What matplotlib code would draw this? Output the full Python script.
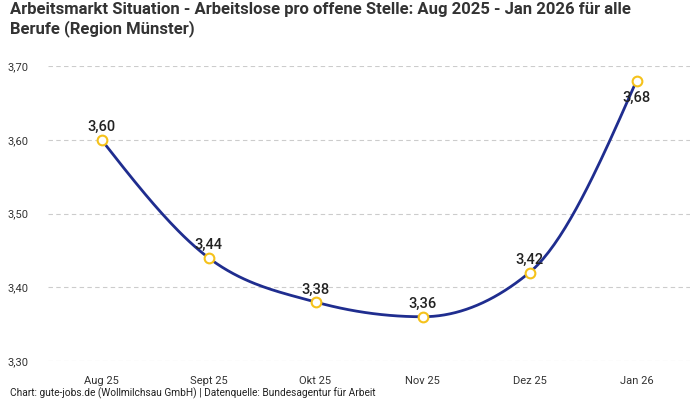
import numpy as np
import matplotlib.pyplot as plt

months = ["Aug 25", "Sept 25", "Okt 25", "Nov 25", "Dez 25", "Jan 26"]
werte = [3.60, 3.44, 3.38, 3.36, 3.42, 3.68]
y_ticks = [3.30, 3.40, 3.50, 3.60, 3.70]

titel = "Arbeitsmarkt Situation - Arbeitslose pro offene Stelle: Aug 2025 - Jan 2026 für alle\nBerufe (Region Münster)"
quelle = "Chart: gute-jobs.de (Wollmilchsau GmbH) | Datenquelle: Bundesagentur für Arbeit"

plt.rcParams['font.family'] = ['Roboto', 'DejaVu Sans']


def monotone(x, y, n=40):
    # monotone kubische Interpolation (wie d3 curveMonotoneX)
    x = np.asarray(x, float)
    y = np.asarray(y, float)
    h = np.diff(x)
    s = np.diff(y) / h
    m = np.zeros_like(y)
    for i in range(1, len(y) - 1):
        if s[i - 1] * s[i] <= 0:
            m[i] = 0
        else:
            p = (s[i - 1] * h[i] + s[i] * h[i - 1]) / (h[i - 1] + h[i])
            m[i] = (np.sign(s[i - 1]) + np.sign(s[i])) * min(abs(s[i - 1]), abs(s[i]), 0.5 * abs(p))
    m[0] = (3 * s[0] - m[1]) / 2 if len(y) > 2 else s[0]
    m[-1] = (3 * s[-1] - m[-2]) / 2
    xs, ys = [], []
    for i in range(len(h)):
        t = np.linspace(0, 1, n)
        h00 = 2 * t**3 - 3 * t**2 + 1
        h10 = t**3 - 2 * t**2 + t
        h01 = -2 * t**3 + 3 * t**2
        h11 = t**3 - t**2
        xs.append(x[i] + t * h[i])
        ys.append(h00 * y[i] + h10 * h[i] * m[i] + h01 * y[i + 1] + h11 * h[i] * m[i + 1])
    return np.concatenate(xs), np.concatenate(ys)


fig = plt.figure(figsize=(7, 4), dpi=100)
ax = fig.add_axes([48 / 700, 1 - 361 / 400, 642 / 700, 295 / 400])

xpos = np.arange(len(months))
xs, ys = monotone(xpos, werte)
ax.plot(xs, ys, color="#1f2d8f", lw=2, zorder=2)
ax.plot(xpos, werte, 'o', ms=7, mfc="white", mec="#f5c21b", mew=1.5, zorder=3)

for i, v in enumerate(werte):
    txt = f"{v:.2f}".replace(".", ",")
    if v > 3.65:
        ax.annotate(txt, (i, v), xytext=(0, -7), textcoords="offset points",
                    ha="center", va="top", fontsize=10.5, fontweight="medium", color="#222222")
    else:
        ax.annotate(txt, (i, v), xytext=(0, 4), textcoords="offset points",
                    ha="center", va="bottom", fontsize=10.5, fontweight="medium", color="#222222")

ax.set_xlim(-0.5, len(months) - 0.5)
ax.set_ylim(3.30, 3.70)
ax.set_yticks(y_ticks)
ax.set_yticklabels([f"{t:.2f}".replace(".", ",") for t in y_ticks])
ax.set_xticks(xpos)
ax.set_xticklabels(months)
ax.tick_params(axis="both", length=0, labelsize=8, colors="#333333")
ax.tick_params(axis="x", pad=11)
ax.tick_params(axis="y", pad=14)
ax.yaxis.grid(True, linestyle=(0, (4, 3)), color="#cccccc", lw=0.8)
ax.set_axisbelow(True)
for sp in ax.spines.values():
    sp.set_visible(False)

fig.text(10 / 700, 1 - 2 / 400, titel, ha="left", va="top", fontsize=12, fontweight="bold",
         color="#333333", linespacing=1.2)
fig.text(10 / 700, 1 - 393 / 400, quelle, ha="left", va="center", fontsize=7.3, color="#222222")

fig.savefig("out.png", dpi=100)
